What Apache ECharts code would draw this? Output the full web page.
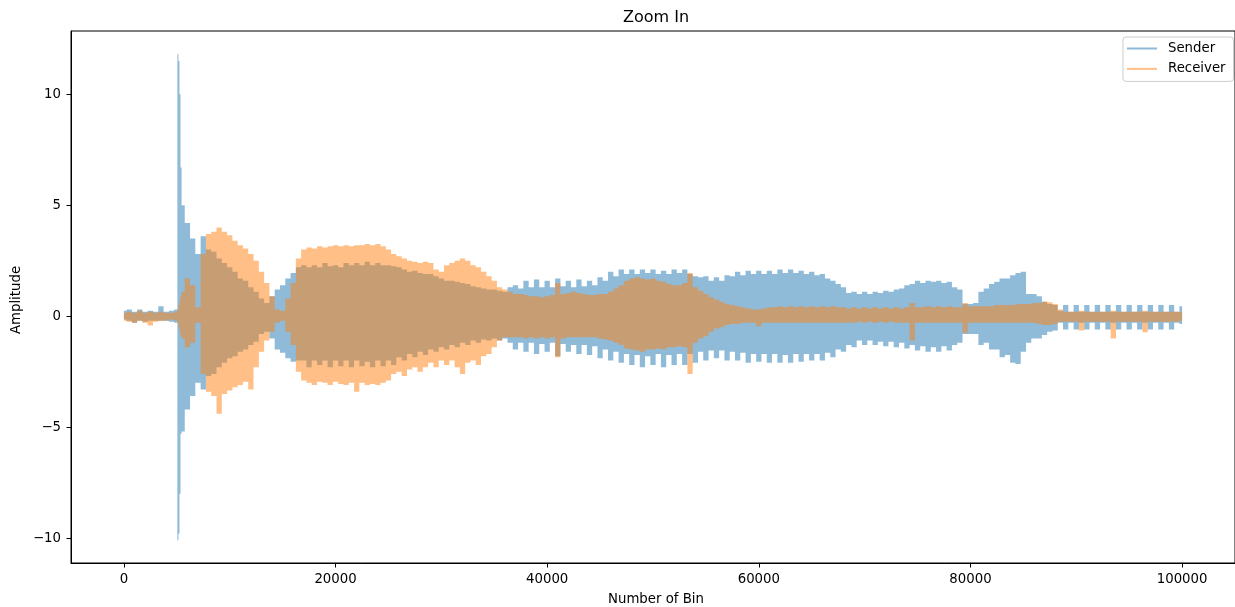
<!DOCTYPE html>
<html>
<head>
<meta charset="utf-8">
<script src="https://cdn.jsdelivr.net/npm/echarts@6/dist/echarts.min.js"></script>
<style>
html,body{margin:0;padding:0;background:#ffffff;}
#chart{width:1235px;height:607px;}
</style>
</head>
<body>
<div id="chart"></div>
<script>
// Bin positions (x) of the envelope samples
const bins = [
  0,500,1000,1500,2000,2500,3000,3500,4000,4500,5000,
  5100,5200,5300,5400,
  5500,6000,6500,7000,7500,8000,8500,9000,9500,10000,
  10500,11000,11500,12000,12500,13000,13500,14000,14500,15000,
  15500,16000,16500,17000,17500,18000,18500,19000,19500,20000,
  20500,21000,21500,22000,22500,23000,23500,24000,24500,25000,
  25500,26000,26500,27000,27500,28000,28500,29000,29500,30000,
  30500,31000,31500,32000,32500,33000,33500,34000,34500,35000,
  35500,36000,36500,37000,37500,38000,38500,39000,39500,40000,
  40500,41000,41500,42000,42500,43000,43500,44000,44500,45000,
  45500,46000,46500,47000,47500,48000,48500,49000,49500,50000,
  50500,51000,51500,52000,52500,53000,53500,54000,54500,55000,
  55500,56000,56500,57000,57500,58000,58500,59000,59500,60000,
  60500,61000,61500,62000,62500,63000,63500,64000,64500,65000,
  65500,66000,66500,67000,67500,68000,68500,69000,69500,70000,
  70500,71000,71500,72000,72500,73000,73500,74000,74500,75000,
  75500,76000,76500,77000,77500,78000,78500,79000,79500,80000,
  80500,81000,81500,82000,82500,83000,83500,84000,84500,85000,
  85500,86000,86500,87000,87500,88000,88500,89000,89500,90000,
  90500,91000,91500,92000,92500,93000,93500,94000,94500,95000,
  95500,96000,96500,97000,97500,98000,98500,99000,99500,100000
];

// Sender: upper and lower envelope of the waveform
const senderHigh = [
  0.25,0.3,0.2,0.3,0.2,0.25,0.2,0.45,0.2,0.25,0.3,
  11.8,11.5,10.0,6.7,
  5.0,4.2,3.5,2.8,3.6,3.0,2.9,2.6,2.4,2.2,
  2.0,1.7,1.6,1.3,1.1,0.8,0.6,0.9,1.2,1.4,
  1.7,1.95,2.2,2.3,2.2,2.3,2.2,2.4,2.25,2.3,
  2.2,2.4,2.3,2.4,2.3,2.45,2.3,2.4,2.3,2.3,
  2.25,2.2,2.1,2.0,2.05,1.95,1.9,1.9,1.8,1.7,
  1.6,1.6,1.55,1.5,1.45,1.35,1.3,1.25,1.2,1.2,
  1.15,1.1,1.3,1.4,1.25,1.6,1.3,1.65,1.3,1.6,
  1.3,1.7,1.35,1.6,1.3,1.65,1.35,1.6,1.4,1.75,
  1.6,2.0,1.8,2.1,1.9,2.1,1.9,2.1,1.95,2.1,
  1.9,2.05,1.9,2.1,1.95,2.1,1.9,1.8,1.75,1.8,
  1.6,1.75,1.6,1.85,1.8,2.0,1.85,2.05,1.9,2.05,
  1.9,2.05,1.9,2.1,1.95,2.1,1.95,2.05,1.9,2.0,
  1.85,1.9,1.7,1.6,1.45,1.3,1.05,1.1,1.0,1.1,
  1.0,1.1,1.05,1.15,1.1,1.2,1.25,1.4,1.45,1.6,
  1.5,1.6,1.55,1.6,1.5,1.55,1.3,1.2,0.55,0.55,
  0.6,1.1,1.25,1.45,1.55,1.7,1.7,1.85,1.95,2.0,
  1.0,1.0,0.9,0.65,0.55,0.5,0.25,0.5,0.2,0.5,
  0.2,0.5,0.2,0.5,0.2,0.5,0.2,0.5,0.2,0.5,
  0.2,0.5,0.2,0.5,0.2,0.5,0.2,0.5,0.2,0.45
];
const senderLow = [
  -0.15,-0.2,-0.3,-0.2,-0.25,-0.2,-0.2,-0.2,-0.2,-0.25,-0.3,
  -10.1,-9.8,-8.0,-5.3,
  -5.2,-4.2,-3.6,-3.0,-3.3,-2.7,-2.6,-2.3,-2.1,-1.9,
  -1.8,-1.6,-1.5,-1.3,-1.15,-0.8,-0.7,-1.0,-1.5,-1.65,
  -1.9,-2.05,-2.0,-2.0,-2.3,-2.0,-2.2,-2.0,-2.3,-2.0,
  -2.25,-2.0,-2.3,-2.0,-2.25,-2.05,-2.3,-2.0,-2.25,-2.0,
  -2.2,-1.85,-2.0,-1.7,-1.85,-1.6,-1.75,-1.5,-1.6,-1.4,
  -1.5,-1.3,-1.4,-1.2,-1.3,-1.1,-1.2,-1.05,-1.1,-1.0,
  -1.1,-1.0,-1.2,-1.5,-1.2,-1.6,-1.2,-1.7,-1.25,-1.6,
  -1.2,-1.8,-1.25,-1.6,-1.3,-1.7,-1.3,-1.75,-1.35,-1.9,
  -1.5,-2.0,-1.6,-2.1,-1.7,-2.2,-1.75,-2.3,-1.8,-2.2,
  -1.7,-2.3,-1.75,-2.2,-1.7,-2.2,-1.7,-2.1,-1.6,-2.0,
  -1.55,-1.9,-1.55,-2.0,-1.6,-2.0,-1.65,-2.1,-1.7,-2.05,
  -1.7,-2.1,-1.7,-2.1,-1.75,-2.1,-1.7,-2.05,-1.7,-2.0,
  -1.7,-2.0,-1.65,-1.85,-1.5,-1.6,-1.3,-1.4,-1.1,-1.3,
  -1.1,-1.3,-1.15,-1.35,-1.15,-1.4,-1.2,-1.45,-1.3,-1.55,
  -1.35,-1.6,-1.4,-1.6,-1.35,-1.55,-1.3,-1.2,-0.8,-0.8,
  -0.8,-1.3,-1.2,-1.5,-1.5,-1.85,-1.75,-2.1,-2.15,-1.6,
  -1.2,-1.0,-1.0,-0.85,-0.7,-0.65,-0.3,-0.6,-0.3,-0.6,
  -0.3,-0.6,-0.3,-0.6,-0.3,-0.6,-0.3,-0.6,-0.3,-0.6,
  -0.3,-0.6,-0.3,-0.6,-0.3,-0.6,-0.3,-0.6,-0.3,-0.35
];

// Receiver: upper and lower envelope of the waveform
const receiverHigh = [
  0.15,0.2,0.15,0.25,0.15,0.2,0.15,0.2,0.15,0.15,0.2,
  0.3,0.5,0.7,0.9,
  1.1,1.7,1.4,0.4,2.8,3.7,3.8,4.0,3.8,3.65,
  3.4,3.2,3.05,2.8,2.5,2.0,1.5,0.9,0.3,0.25,
  0.8,1.5,2.6,3.0,3.1,3.05,3.15,3.1,3.15,3.2,
  3.15,3.2,3.15,3.2,3.2,3.25,3.2,3.25,3.15,3.0,
  2.8,2.7,2.6,2.5,2.45,2.4,2.45,2.4,2.1,2.0,
  2.3,2.4,2.5,2.6,2.5,2.3,2.2,2.0,1.8,1.6,
  1.3,1.2,1.1,1.0,1.0,0.95,0.9,0.9,0.85,0.9,
  0.95,1.5,1.0,1.05,1.1,1.05,1.0,0.95,0.95,1.0,
  1.0,1.1,1.25,1.4,1.6,1.7,1.75,1.7,1.65,1.7,
  1.6,1.55,1.45,1.4,1.4,1.5,1.95,1.3,1.15,1.0,
  0.85,0.75,0.65,0.55,0.5,0.45,0.4,0.35,0.3,0.3,
  0.35,0.4,0.4,0.45,0.4,0.45,0.4,0.45,0.4,0.45,
  0.4,0.45,0.4,0.45,0.4,0.4,0.35,0.4,0.35,0.4,
  0.35,0.4,0.35,0.4,0.35,0.4,0.35,0.4,0.6,0.4,
  0.4,0.45,0.4,0.45,0.4,0.45,0.4,0.4,0.6,0.45,
  0.45,0.45,0.45,0.45,0.5,0.5,0.5,0.5,0.55,0.55,
  0.55,0.6,0.6,0.65,0.63,0.55,0.3,0.2,0.2,0.2,
  0.25,0.2,0.2,0.2,0.2,0.2,0.25,0.2,0.2,0.2,
  0.2,0.2,0.25,0.2,0.2,0.2,0.2,0.2,0.2,0.2
];
const receiverLow = [
  -0.2,-0.25,-0.3,-0.2,-0.3,-0.42,-0.25,-0.2,-0.2,-0.15,-0.2,
  -0.3,-0.5,-0.7,-0.9,
  -1.0,-1.4,-1.2,-0.3,-2.6,-3.4,-3.6,-4.4,-3.5,-3.35,
  -3.2,-3.1,-2.95,-3.3,-2.3,-1.6,-1.1,-0.7,-0.3,-0.2,
  -0.7,-1.3,-2.5,-2.9,-3.0,-3.1,-2.95,-3.0,-3.1,-2.95,
  -3.05,-3.1,-3.0,-3.4,-3.0,-3.1,-3.05,-3.1,-3.0,-2.9,
  -2.6,-2.5,-2.7,-2.4,-2.3,-2.5,-2.3,-2.1,-2.3,-2.0,
  -2.2,-2.0,-2.3,-2.6,-2.1,-2.0,-2.2,-1.8,-1.7,-1.4,
  -1.1,-0.95,-0.95,-0.95,-0.95,-1.0,-0.95,-1.0,-0.95,-1.0,
  -0.95,-1.85,-1.0,-0.95,-0.95,-0.95,-0.95,-0.95,-0.95,-1.0,
  -1.05,-1.1,-1.2,-1.3,-1.45,-1.5,-1.55,-1.6,-1.5,-1.5,
  -1.45,-1.5,-1.4,-1.4,-1.35,-1.4,-2.6,-1.2,-1.0,-0.9,
  -0.7,-0.55,-0.5,-0.4,-0.35,-0.35,-0.3,-0.3,-0.3,-0.45,
  -0.3,-0.3,-0.3,-0.3,-0.3,-0.3,-0.3,-0.3,-0.3,-0.3,
  -0.3,-0.3,-0.3,-0.3,-0.3,-0.3,-0.3,-0.3,-0.25,-0.3,
  -0.25,-0.3,-0.25,-0.3,-0.25,-0.3,-0.3,-0.3,-1.1,-0.3,
  -0.3,-0.3,-0.3,-0.3,-0.3,-0.3,-0.3,-0.3,-0.75,-0.3,
  -0.3,-0.3,-0.3,-0.3,-0.3,-0.3,-0.3,-0.3,-0.3,-0.3,
  -0.3,-0.3,-0.35,-0.4,-0.4,-0.35,-0.25,-0.25,-0.25,-0.25,
  -0.64,-0.25,-0.25,-0.25,-0.25,-0.25,-1.0,-0.25,-0.25,-0.25,
  -0.25,-0.25,-0.72,-0.25,-0.25,-0.25,-0.25,-0.25,-0.25,-0.2
];

const xTicks = [0, 20000, 40000, 60000, 80000, 100000];
const yTicks = [-10, -5, 0, 5, 10];

const SENDER_COLOR = 'rgba(31,119,180,0.5)';
const RECEIVER_COLOR = 'rgba(255,127,14,0.5)';
const FONT = '"DejaVu Sans", sans-serif';

// One filled envelope polygon per series, positioned through the axis scales (api.coord)
function bandSeries(name, low, high, color) {
  return {
    name: name, type: 'custom', coordinateSystem: 'cartesian2d',
    silent: true, animation: false, clip: true,
    itemStyle: { color: color },
    encode: { x: 0, y: [1, 2] },
    data: bins.map((b, i) => [b, low[i], high[i]]),
    renderItem: function (params, api) {
      if (params.dataIndex !== 0) return null;
      const n = bins.length;
      const upper = [];
      const lower = [];
      for (let i = 0; i < n; i++) {
        const xl = i === 0 ? bins[0] : (bins[i - 1] + bins[i]) / 2;
        const xr = i === n - 1 ? bins[n - 1] : (bins[i] + bins[i + 1]) / 2;
        upper.push(api.coord([xl, high[i]]), api.coord([xr, high[i]]));
        lower.push(api.coord([xl, low[i]]), api.coord([xr, low[i]]));
      }
      const pts = upper.concat(lower.reverse());
      return { type: 'polygon', shape: { points: pts }, style: { fill: color, stroke: null } };
    }
  };
}

const chart = echarts.init(document.getElementById('chart'), null, { renderer: 'canvas' });
chart.setOption({
  animation: false,
  backgroundColor: '#ffffff',
  grid: { left: 71, top: 31, width: 1170, height: 532, show: true, borderColor: '#000', borderWidth: 1, backgroundColor: 'transparent' },
  xAxis: {
    type: 'value', min: -5000, max: 105000,
    axisLine: { show: true, onZero: false, lineStyle: { color: '#000', width: 1 } },
    axisTick: { show: true, length: 4.5, customValues: xTicks, lineStyle: { color: '#000', width: 1 } },
    axisLabel: { customValues: xTicks, color: '#000', fontSize: 13.3, fontFamily: FONT, margin: 10, formatter: v => String(v) },
    splitLine: { show: false }
  },
  yAxis: {
    type: 'value', min: -11.12, max: 12.85,
    axisLine: { show: true, onZero: false, lineStyle: { color: '#000', width: 1 } },
    axisTick: { show: true, length: 4.5, customValues: yTicks, lineStyle: { color: '#000', width: 1 } },
    axisLabel: { customValues: yTicks, color: '#000', fontSize: 13.3, fontFamily: FONT, margin: 10,
      formatter: v => (v < 0 ? '\u2212' + Math.abs(v) : String(v)) },
    splitLine: { show: false }
  },
  legend: {
    data: ['Sender', 'Receiver'], orient: 'vertical', left: 1123, top: 37,
    padding: [5, 8, 6, 4], itemGap: 7.4, itemWidth: 30, itemHeight: 2, icon: 'rect',
    backgroundColor: 'rgba(255,255,255,0.8)', borderColor: '#cccccc', borderWidth: 1, borderRadius: 3,
    selectedMode: false,
    textStyle: { fontFamily: FONT, fontSize: 13.3, color: '#000', padding: [0, 0, 0, 6] }
  },
  graphic: [
    { type: 'text', x: 656, y: 18, style: { text: 'Zoom In', font: '16px ' + FONT, fill: '#000', align: 'center', verticalAlign: 'middle' } },
    { type: 'text', x: 656, y: 599.5, style: { text: 'Number of Bin', font: '13.3px ' + FONT, fill: '#000', align: 'center', verticalAlign: 'middle' } },
    { type: 'text', x: 16.5, y: 300, rotation: Math.PI / 2, style: { text: 'Amplitude', font: '13.3px ' + FONT, fill: '#000', align: 'center', verticalAlign: 'middle' } }
  ],
  series: [
    bandSeries('Sender', senderLow, senderHigh, SENDER_COLOR),
    bandSeries('Receiver', receiverLow, receiverHigh, RECEIVER_COLOR)
  ]
});
</script>
</body>
</html>
